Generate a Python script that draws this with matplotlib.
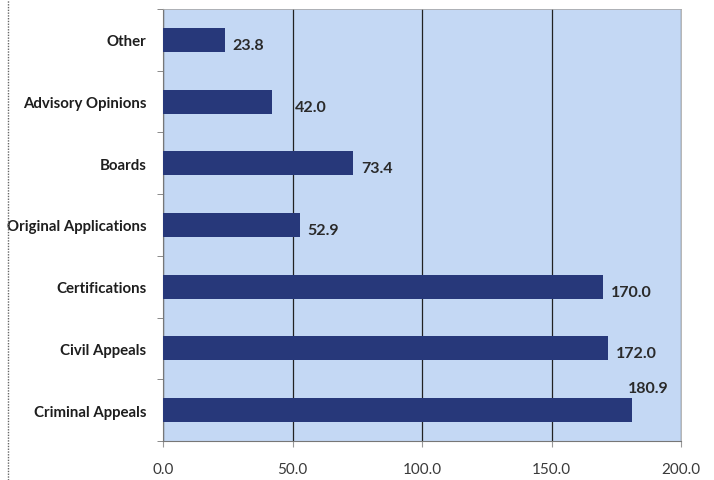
import matplotlib.pyplot as plt
from matplotlib.lines import Line2D

categories = ["Criminal Appeals", "Civil Appeals", "Certifications",
              "Original Applications", "Boards", "Advisory Opinions", "Other"]
values = [180.9, 172.0, 170.0, 52.9, 73.4, 42.0, 23.8]
xticks = [0, 50, 100, 150, 200]

plt.rcParams['font.family'] = ['Lato', 'DejaVu Sans']

fig = plt.figure(figsize=(7.14, 4.81), dpi=100)
ax = fig.add_axes([163 / 714, 1 - 442 / 481, 518 / 714, 432 / 481])
ax.set_facecolor('#c4d8f4')

ypos = list(range(len(categories)))
ax.barh(ypos, values, height=0.39, color='#27387a', zorder=3)

for y, v in zip(ypos, values):
    dx, dy = 3.0, -0.08
    if y == 0:
        # Excel put this one above the bar end
        dx, dy = -1.5, 0.36
    elif categories[y] == "Advisory Opinions":
        dx = 9.0
    ax.text(v + dx, y + dy, "{:.1f}".format(v), va='center', ha='left',
            fontsize=11.5, fontweight='bold', color='#2a2a2a')

ax.set_xlim(0, 200)
ax.set_ylim(-0.5, len(categories) - 0.5)
ax.set_xticks(xticks)
ax.set_xticklabels(["{:.1f}".format(t) for t in xticks], fontsize=11, color='#3a3a3a')
ax.set_yticks(ypos)
ax.set_yticklabels(categories, fontsize=10.8, fontweight='bold', color='#1e1e1e')
ax.set_yticks([i - 0.5 for i in range(len(categories) + 1)], minor=True)
ax.tick_params(axis='y', which='major', length=0, pad=12)
ax.tick_params(axis='y', which='minor', length=4, color='#777777')
ax.tick_params(axis='x', length=4, color='#999999', pad=11)

ax.grid(axis='x', color='#222222', linewidth=0.9, zorder=1)
for s in ['top', 'right']:
    ax.spines[s].set_color('#aaaaaa')
    ax.spines[s].set_linewidth(0.6)
ax.spines['left'].set_color('#777777')
ax.spines['bottom'].set_color('#777777')

fig.add_artist(Line2D([8 / 714, 8 / 714], [0, 1], transform=fig.transFigure,
                      color='#666666', linestyle=(0, (1, 1)), linewidth=1))

fig.savefig("out.png", dpi=100, facecolor='white')
